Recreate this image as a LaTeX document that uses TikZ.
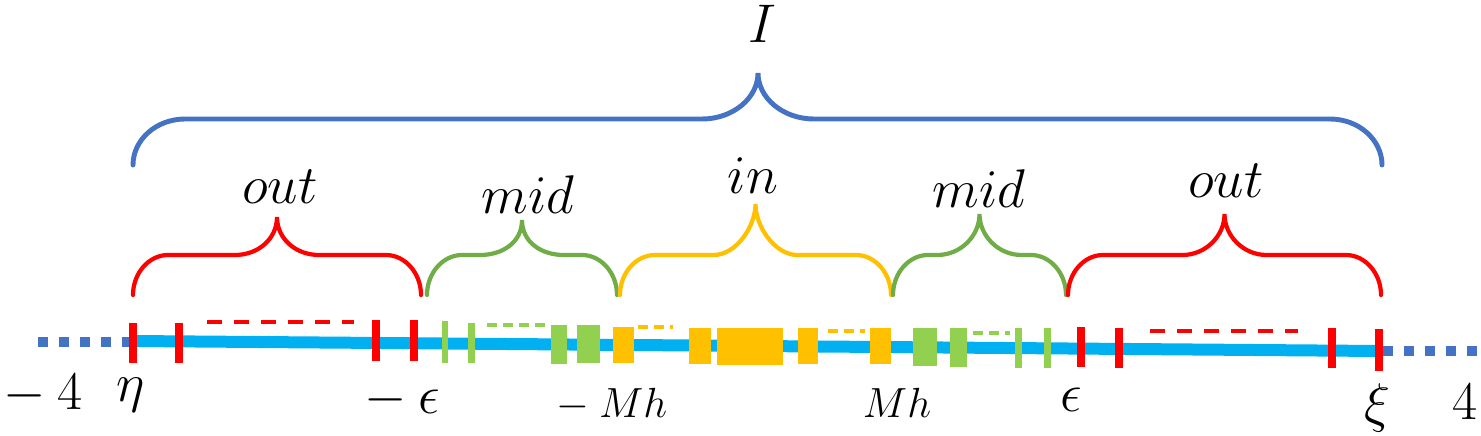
\RequirePackage{fix-cm}
\documentclass[tikz,border=0pt]{standalone}

\definecolor{braceblue}{HTML}{4472C4}
\definecolor{outred}{HTML}{FF0000}
\definecolor{midgreen}{HTML}{70AD47}
\definecolor{inorange}{HTML}{FFC000}
\definecolor{barblue}{HTML}{00B0F0}
\definecolor{blockgreen}{HTML}{92D050}

\tikzset{
  lab/.style={font=\fontsize{31}{37}\selectfont, inner sep=0pt, anchor=base},
  smalllab/.style={font=\fontsize{24}{29}\selectfont, inner sep=0pt, anchor=base},
  curly/.style={line width=2.4pt, line cap=round},
  dots/.style={braceblue, line width=0.2cm, dash pattern=on 0.2cm off 0.22cm},
  longgap/.style={line width=0.08cm, dash pattern=on 0.3cm off 0.24cm},
  shortgap/.style={line width=0.08cm, dash pattern=on 0.2cm off 0.12cm},
}

\begin{document}
\begin{tikzpicture}[x=0.02cm,y=-0.02cm]
  \useasboundingbox (0,0) rectangle (1481,436);

  % the whole interval
  \draw[curly, braceblue, line width=2.8pt] (133,165) .. controls (133,140) and (156,119) .. (185,119)
    -- (702,119) .. controls (733,119) and (758,98) .. (758,73)
    .. controls (758,98) and (783,119) .. (814,119)
    -- (1330,119) .. controls (1359,119) and (1382,140) .. (1382,165);
  \node[lab] (lI) at (762,42) {$I$};

  % the five parts
  \foreach \xa/\xb/\yt/\col in {133/421/217/outred, 427/617/220/midgreen, 620/891/204/inorange,
                                893/1066/214/midgreen, 1068/1381/214/outred}{
    \pgfmathsetmacro{\xm}{(\xa+\xb)/2}
    \draw[curly, \col] (\xa,295) .. controls (\xa,273) and (\xa+16,255) .. (\xa+35,255)
      -- (\xm-42,255) .. controls (\xm-19,255) and (\xm,\yt+22) .. (\xm,\yt)
      .. controls (\xm,\yt+22) and (\xm+19,255) .. (\xm+42,255)
      -- (\xb-35,255) .. controls (\xb-16,255) and (\xb,273) .. (\xb,295);
  }
  \node[lab] (lout1) at (280,203) {$out$};
  \node[lab] (lmid1) at (528,213) {$mid$};
  \node[lab] (lin) at (753,193) {$in$};
  \node[lab] (lmid2) at (979,207) {$mid$};
  \node[lab] (lout2) at (1226,197) {$out$};

  % the axis
  \draw[dots] (38,342) -- (131,342);
  \draw[dots] (1383,351) -- (1481,351);
  \draw[barblue, line width=0.24cm] (133,341) -- (1380,351);

  % grid points
  \foreach \xa/\xb/\ya/\yb in {129/137/323/363, 175/183/323/363, 372/380/320/361, 410/418/320/361,
                               1077/1085/327/367, 1115/1123/328/368, 1328/1336/328/368, 1375/1383/329/371}
    \fill[outred] (\xa,\ya) rectangle (\xb,\yb);
  \foreach \xa/\xb/\ya/\yb in {442/448/321/363, 468/475/323/363, 551/567/325/364, 577/600/325/363,
                               913/937/328/366, 950/967/328/367, 1015/1022/328/368, 1044/1051/328/368}
    \fill[blockgreen] (\xa,\ya) rectangle (\xb,\yb);
  \foreach \xa/\xb/\ya/\yb in {613/634/327/363, 689/711/328/364, 717/783/328/365, 798/818/328/364, 870/891/328/364}
    \fill[inorange] (\xa,\ya) rectangle (\xb,\yb);

  % skipped points
  \draw[longgap, outred] (207,322) -- (354,322);
  \draw[shortgap, blockgreen] (487,325) -- (545,325);
  \draw[shortgap, inorange] (638,327) -- (673,327);
  \draw[shortgap, inorange] (828,331) -- (865,331);
  \draw[shortgap, blockgreen] (973,333) -- (1010,333);
  \draw[longgap, outred] (1150,331) -- (1298,331);

  % labels on the axis
  \node[lab] (lm4) at (43,409) {$-\:4$};
  \node[lab] (leta) at (131,401) {$\eta$};
  \node[lab] (lmeps) at (402,413) {$-\:\epsilon$};
  \node[smalllab] (lmMh) at (612,417) {$-\:Mh$};
  \node[smalllab] (lMh) at (897,417) {$Mh$};
  \node[lab] (leps) at (1071,411) {$\epsilon$};
  \node[lab] (lxi) at (1377,421) {$\xi$};
  \node[lab] (l4) at (1465,419) {$4$};
\end{tikzpicture}
\end{document}
